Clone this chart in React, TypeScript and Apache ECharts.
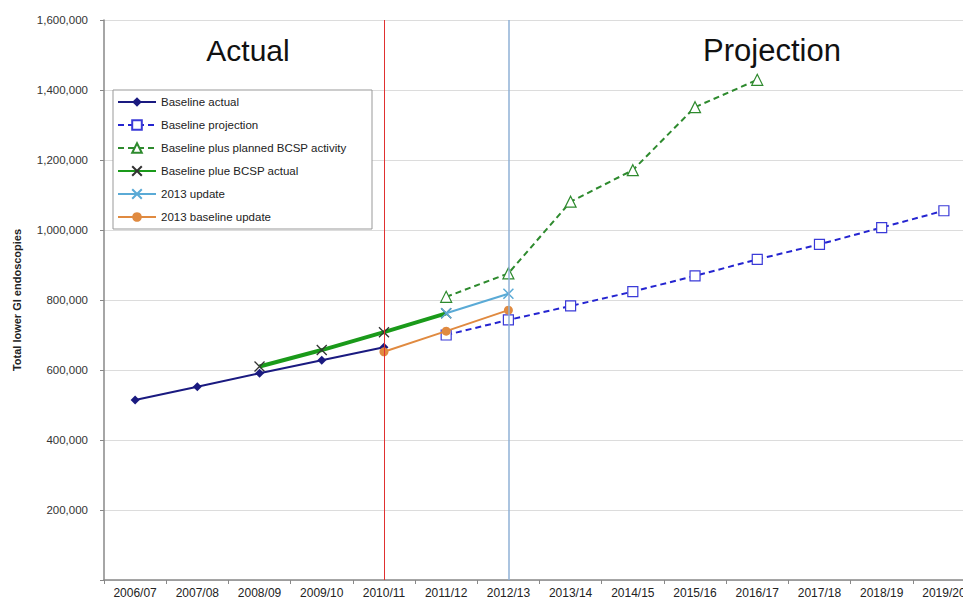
import React, { useEffect, useRef } from "react";
import * as echarts from "echarts";

const categories = [
  "2006/07", "2007/08", "2008/09", "2009/10", "2010/11", "2011/12", "2012/13",
  "2013/14", "2014/15", "2015/16", "2016/17", "2017/18", "2018/19", "2019/20",
];
const baselineActual = [514000, 552000, 591000, 628000, 665000, null, null, null, null, null, null, null, null, null];
const baselineProjection = [null, null, null, null, null, 700000, 743000, 783000, 824000, 869000, 916000, 959000, 1007000, 1055000];
const plannedBCSP = [null, null, null, null, null, 809000, 876000, 1081000, 1171000, 1351000, 1429000, null, null, null];
const bcspActual = [null, null, 610000, 657000, 708000, 762000, null, null, null, null, null, null, null, null];
const update2013 = [null, null, null, null, null, 762000, 818000, null, null, null, null, null, null, null];
const baselineUpdate2013 = [null, null, null, null, 652000, 711000, 771000, null, null, null, null, null, null, null];
const dividerActual = "2010/11";
const dividerProjection = "2012/13";

const FONT = "Liberation Sans, Arial, sans-serif";
const X_SYMBOL = "path://M0,0L10,10M10,0L0,10";

export default function App() {
  const ref = useRef<HTMLDivElement>(null);
  useEffect(() => {
    if (!ref.current) return;
    document.body.style.margin = "0";
    document.body.style.overflow = "hidden";
    const chart = echarts.init(ref.current, null, { renderer: "svg" });
    chart.setOption({
      animation: false,
      backgroundColor: "#ffffff",
      textStyle: { fontFamily: FONT },
      grid: { left: 104, right: 5, top: 20, bottom: 21, containLabel: false },
      xAxis: {
        type: "category",
        data: categories,
        boundaryGap: true,
        axisLine: { lineStyle: { color: "#888", width: 1.5 } },
        axisTick: { show: true, length: 4, lineStyle: { color: "#888" } },
        axisLabel: { color: "#222", fontSize: 12, margin: 7, fontFamily: FONT, interval: 0 },
        splitLine: { show: false },
      },
      yAxis: {
        type: "value",
        min: 0,
        max: 1600000,
        interval: 200000,
        name: "Total lower GI endoscopies",
        nameLocation: "middle",
        nameGap: 82,
        nameTextStyle: { fontSize: 11, fontWeight: "bold", color: "#222", fontFamily: FONT },
        axisLine: { show: true, lineStyle: { color: "#888", width: 1.5 } },
        axisTick: { show: true, length: 4, lineStyle: { color: "#888" } },
        axisLabel: {
          color: "#333",
          fontSize: 11.5,
          margin: 16,
          fontFamily: FONT,
          formatter: (v: number) => (v === 0 ? "" : v.toLocaleString("en-US")),
        },
        splitLine: { show: true, lineStyle: { color: "#dcdcdc", width: 1 } },
      },
      legend: {
        orient: "vertical",
        left: 117,
        top: 96,
        itemWidth: 38,
        itemHeight: 12,
        itemGap: 11,
        padding: 0,
        textStyle: { fontSize: 11.5, color: "#222", lineHeight: 12, fontFamily: FONT },
        z: 5,
        data: [
          "Baseline actual",
          "Baseline projection",
          "Baseline plus planned BCSP activity",
          "Baseline plue BCSP actual",
          "2013 update",
          "2013 baseline update",
        ],
      },
      graphic: [
        {
          type: "rect",
          z: 3,
          shape: { x: 113, y: 90, width: 259, height: 139 },
          style: { fill: "#ffffff", stroke: "#999", lineWidth: 1 },
        },
        {
          type: "text",
          z: 5,
          x: 248,
          y: 50,
          style: {
            text: "Actual",
            fontSize: 30,
            fontFamily: FONT,
            fill: "#111",
            align: "center",
            verticalAlign: "middle",
          },
        },
        {
          type: "text",
          z: 5,
          x: 772,
          y: 50,
          style: {
            text: "Projection",
            fontSize: 31,
            fontFamily: FONT,
            fill: "#111",
            align: "center",
            verticalAlign: "middle",
          },
        },
      ],
      series: [
        {
          name: "divider-actual",
          type: "line",
          data: [],
          itemStyle: { color: "#e03030" },
          z: 1,
          markLine: {
            silent: true,
            symbol: "none",
            label: { show: false },
            lineStyle: { color: "#e03030", width: 1, type: "solid" },
            data: [{ xAxis: dividerActual }],
          },
        },
        {
          name: "divider-projection",
          type: "line",
          data: [],
          itemStyle: { color: "#8fb0d6" },
          z: 1,
          markLine: {
            silent: true,
            symbol: "none",
            label: { show: false },
            lineStyle: { color: "#8fb0d6", width: 1.5, type: "solid" },
            data: [{ xAxis: dividerProjection }],
          },
        },
        {
          name: "Baseline plue BCSP actual",
          type: "line",
          data: bcspActual,
          symbol: X_SYMBOL,
          symbolSize: 10,
          lineStyle: { color: "#1a9a1a", width: 4 },
          itemStyle: { color: "#1a9a1a", borderColor: "#333", borderWidth: 1.3 },
          z: 3,
        },
        {
          name: "Baseline actual",
          type: "line",
          data: baselineActual,
          symbol: "diamond",
          symbolSize: 9,
          lineStyle: { color: "#1a1a80", width: 2 },
          itemStyle: { color: "#1a1a80" },
          z: 4,
        },
        {
          name: "Baseline projection",
          type: "line",
          data: baselineProjection,
          symbol: "rect",
          symbolSize: 10,
          lineStyle: { color: "#2424d0", width: 2, type: [6, 4] },
          itemStyle: { color: "#ffffff", borderColor: "#3a3ad8", borderWidth: 1.2 },
          z: 3,
        },
        {
          name: "Baseline plus planned BCSP activity",
          type: "line",
          data: plannedBCSP,
          symbol: "triangle",
          symbolSize: 11,
          lineStyle: { color: "#2e8a2e", width: 2, type: [6, 4] },
          itemStyle: { color: "#ffffff", borderColor: "#2e8a2e", borderWidth: 1.2 },
          z: 3,
        },
        {
          name: "2013 update",
          type: "line",
          data: update2013,
          symbol: X_SYMBOL,
          symbolSize: 10,
          lineStyle: { color: "#5aaad6", width: 2 },
          itemStyle: { color: "#5aaad6", borderColor: "#5aaad6", borderWidth: 1.5 },
          z: 4,
        },
        {
          name: "2013 baseline update",
          type: "line",
          data: baselineUpdate2013,
          symbol: "circle",
          symbolSize: 9,
          lineStyle: { color: "#e08a40", width: 2 },
          itemStyle: { color: "#e08a40" },
          z: 4,
        },
      ],
    });
    return () => chart.dispose();
  }, []);
  return (
    <div
      ref={ref}
      style={{ position: "fixed", left: 0, top: 0, width: 980, height: 601 }}
    />
  );
}
